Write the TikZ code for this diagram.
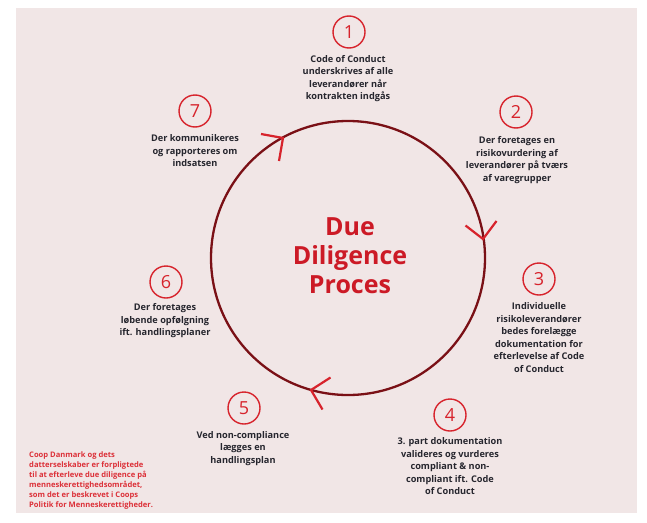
\documentclass[tikz,border=0pt]{standalone}
\usepackage{fontspec}
\setmainfont{Open Sans}
\definecolor{bgpink}{HTML}{F1E6E6}
\definecolor{ringred}{HTML}{7A1016}
\definecolor{brightred}{HTML}{D7232C}
\definecolor{titlered}{HTML}{CC1A26}
\definecolor{footred}{HTML}{DC3038}
\definecolor{txtdark}{HTML}{26262E}
\tikzset{
  numcirc/.style={circle, draw=brightred, line width=1.4pt, minimum size=32pt, inner sep=0pt, text=brightred, font=\fontsize{18}{18}\selectfont},
  steptext/.style={align=center, text=txtdark, font=\fontsize{9.2}{12.5}\selectfont\bfseries, inner sep=0pt},
  vhead/.style={draw=brightred, line width=2.2pt},
}
\begin{document}
\begin{tikzpicture}[x=1pt,y=-1pt]
\useasboundingbox (0,0) rectangle (647,522);
\fill[white] (0,0) rectangle (647,522);
\fill[bgpink] (16,8) rectangle (637,513);
% ring
\coordinate (c) at (348,258);
\draw[ringred, line width=2.3pt] (c) circle[radius=137];
% arrowheads
\coordinate (h1) at (483,239);
\coordinate (h1a) at (465.5,225.5);
\coordinate (h1b) at (496.5,221);
\draw[vhead] (h1a) -- (h1) -- (h1b);
\coordinate (h2) at (311,390);
\coordinate (h2a) at (330.5,377.5);
\coordinate (h2b) at (322.5,409.5);
\draw[vhead] (h2a) -- (h2) -- (h2b);
\coordinate (h3) at (283,138);
\coordinate (h3a) at (261,134);
\coordinate (h3b) at (279,161);
\draw[vhead] (h3a) -- (h3) -- (h3b);
% title
\node[align=center, text=titlered, font=\fontsize{25}{29}\selectfont\bfseries] (title) at (350,256) {Due\\Diligence\\Proces};
% numbered circles
\node[numcirc] (n1) at (349,32) {1};
\node[numcirc] (n2) at (516,112) {2};
\node[numcirc] (n3) at (539,279) {3};
\node[numcirc] (n4) at (450,415) {4};
\node[numcirc] (n5) at (244,408) {5};
\node[numcirc] (n6) at (166,282) {6};
\node[numcirc] (n7) at (195,111) {7};
% step texts
\node[steptext] (t1) at (348,78.5) {Code of Conduct\\underskrives af alle\\leverandører når\\kontrakten indgås};
\node[steptext] (t2) at (517,160) {Der foretages en\\risikovurdering af\\leverandører på tværs\\af varegrupper};
\node[steptext] (t3) at (539,337.5) {Individuelle\\risikoleverandører\\bedes forelægge\\dokumentation for\\efterlevelse af Code\\of Conduct};
\node[steptext] (t4) at (450,466.5) {3. part dokumentation\\valideres og vurderes\\compliant \& non-\\compliant ift. Code\\of Conduct};
\node[steptext] (t5) at (243,448.5) {Ved non-compliance\\lægges en\\handlingsplan};
\node[steptext] (t6) at (165,321) {Der foretages\\løbende opfølgning\\ift. handlingsplaner};
\node[steptext] (t7) at (195,151) {Der kommunikeres\\og rapporteres om\\indsatsen};
% footer
\node[anchor=west, align=left, text=footred, font=\fontsize{7.6}{10}\selectfont\bfseries, inner sep=0pt] (foot) at (29,481) {Coop Danmark og dets\\datterselskaber er forpligtede\\til at efterleve due diligence på\\menneskerettighedsområdet,\\som det er beskrevet i Coops\\Politik for Menneskerettigheder.};
\end{tikzpicture}
\end{document}
